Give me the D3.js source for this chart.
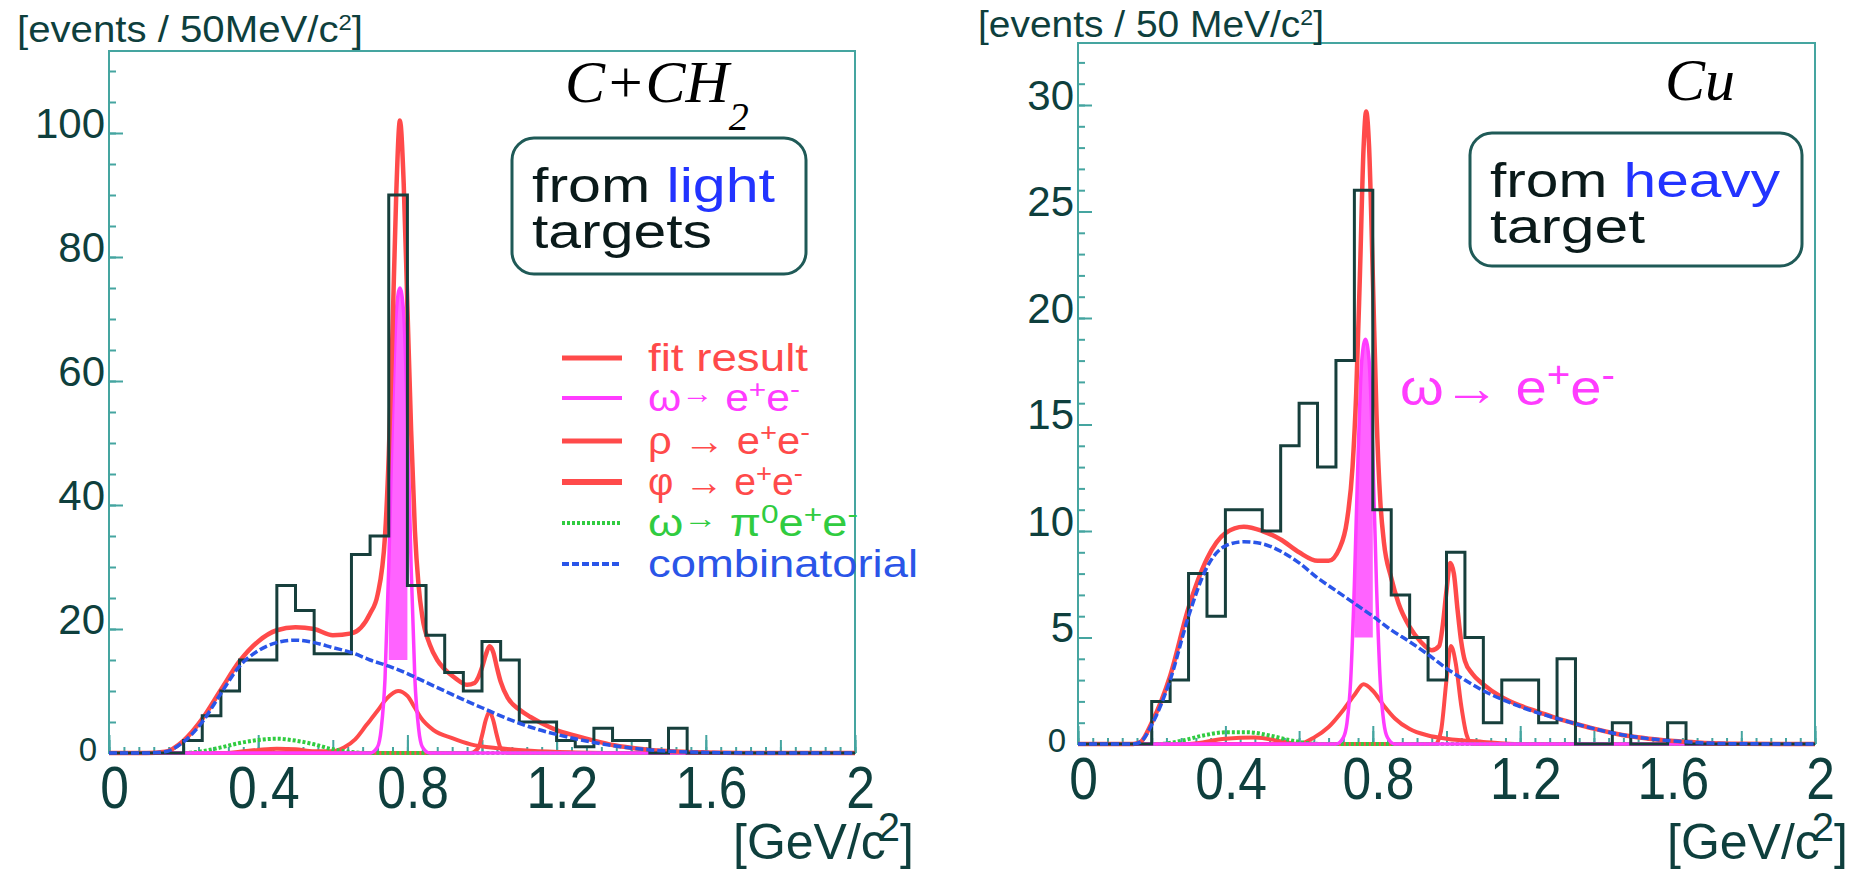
<!DOCTYPE html>
<html>
<head>
<meta charset="utf-8">
<style>
html, body { margin: 0; padding: 0; background: #fff; }
svg { display: block; }
</style>
</head>
<body>
<svg width="1858" height="871"></svg>
<script src="https://d3js.org/d3.v7.min.js"></script>
<script>
// ---- data (events per 50 MeV bin, 0..2 GeV) ----
var binWidth = 0.05;
var xTicks = [0, 0.4, 0.8, 1.2, 1.6, 2];
var xTickLabels = ["0", "0.4", "0.8", "1.2", "1.6", "2"];

// light targets (C+CH2)
var lightHist = [0,0,0,0,2,6,10,15,15,27,23,16,16,32,35,90,27,19,13,10,18,15,5,5,2,1,4,2,2,0,4,0,0,0,0,0,0,0,0,0];
var lightYTicks = [0, 20, 40, 60, 80, 100];
var lightComb = [[0,0],[0.1,0],[0.15,0.2],[0.2,1.8],[0.25,5],[0.3,9.6],[0.35,14],[0.4,16.5],[0.45,17.8],[0.5,18.2],[0.55,17.8],[0.6,17],[0.65,16.2],[0.7,15],[0.75,14],[0.8,12.8],[0.85,11.4],[0.9,10],[0.95,8.6],[1,7.3],[1.05,6],[1.1,4.8],[1.15,3.8],[1.2,3],[1.25,2.3],[1.3,1.7],[1.35,1.2],[1.4,0.8],[1.45,0.5],[1.5,0.3],[1.6,0.1],[1.7,0.02],[2,0]];
var lightFit = [[0,0],[0.1,0],[0.15,0.2],[0.2,2],[0.25,5.5],[0.3,10.2],[0.35,14.8],[0.4,18],[0.45,19.8],[0.5,20.3],[0.55,20],[0.6,19],[0.65,19.3],[0.7,22.5],[0.72,25.5],[0.74,35],[0.75,48],[0.76,68],[0.77,90],[0.78,102],[0.79,92],[0.8,72],[0.81,52],[0.82,36],[0.83,27],[0.84,22],[0.86,17.5],[0.88,15],[0.9,13.5],[0.93,12],[0.96,11],[0.98,11.3],[0.99,12.2],[1,13.8],[1.01,15.8],[1.02,17.2],[1.03,16.3],[1.04,13.8],[1.05,11.5],[1.07,8.8],[1.1,7],[1.13,5.8],[1.16,4.8],[1.2,3.7],[1.25,2.8],[1.3,2],[1.35,1.3],[1.4,0.85],[1.45,0.5],[1.5,0.3],[1.6,0.1],[1.7,0.02],[2,0]];
var lightOmega = [[0,0],[0.7,0],[0.72,1],[0.73,4],[0.74,12],[0.75,30],[0.76,54],[0.77,71],[0.78,75],[0.79,71],[0.8,54],[0.81,30],[0.82,12],[0.83,4],[0.84,1],[0.86,0],[2,0]];
var lightRho = [[0,0],[0.3,0],[0.35,0.2],[0.4,0.5],[0.45,0.7],[0.5,0.6],[0.55,0.3],[0.6,0.3],[0.63,0.9],[0.66,2.2],[0.69,4.5],[0.72,6.8],[0.745,8.8],[0.775,10],[0.8,9.2],[0.82,7.3],[0.835,5.8],[0.87,3.7],[0.92,2.4],[0.97,1.4],[1.05,0.75],[1.13,0.35],[1.25,0.1],[1.4,0],[2,0]];
var lightPhi = [[0,0],[0.97,0],[0.99,0.8],[1,2.8],[1.01,5.3],[1.02,6.7],[1.03,5.3],[1.04,2.8],[1.05,0.8],[1.07,0],[2,0]];
var lightDalitz = [[0,0],[0.2,0],[0.25,0.3],[0.3,0.9],[0.35,1.6],[0.4,2.1],[0.45,2.3],[0.5,2],[0.55,1.4],[0.6,0.6],[0.65,0.15],[0.7,0],[2,0]];

// heavy target (Cu)
var heavyHist = [0,0,0,0,2,3,8,6,11,11,10,14,16,13,18,26,11,7,5,3,9,5,1,3,3,1,4,0,0,1,0,0,1,0,0,0,0,0,0,0];
var heavyYTicks = [0, 5, 10, 15, 20, 25, 30];
var heavyComb = [[0,0],[0.15,0],[0.17,0.1],[0.2,0.9],[0.25,3],[0.3,6],[0.35,8.3],[0.4,9.3],[0.45,9.5],[0.5,9.4],[0.55,9.05],[0.6,8.5],[0.65,7.8],[0.7,7.2],[0.75,6.6],[0.8,6],[0.85,5.35],[0.9,4.8],[0.95,4.2],[1,3.55],[1.05,3],[1.1,2.5],[1.15,2.1],[1.2,1.75],[1.25,1.45],[1.3,1.2],[1.35,0.95],[1.4,0.72],[1.45,0.52],[1.5,0.36],[1.55,0.25],[1.6,0.16],[1.65,0.1],[1.7,0.05],[1.8,0.01],[2,0]];
var heavyFit = [[0,0],[0.15,0],[0.17,0.1],[0.2,1],[0.25,3.2],[0.3,6.4],[0.35,8.7],[0.4,9.9],[0.45,10.2],[0.5,10],[0.55,9.6],[0.6,9],[0.65,8.6],[0.68,8.6],[0.71,9.2],[0.73,10.5],[0.745,13],[0.755,16.5],[0.765,22],[0.775,28],[0.782,29.7],[0.79,28],[0.8,22],[0.81,15.5],[0.82,11.5],[0.83,9.5],[0.85,7.8],[0.87,6.6],[0.9,5.5],[0.93,4.8],[0.96,4.4],[0.98,4.6],[0.99,5.6],[1,7.2],[1.01,8.5],[1.02,8],[1.03,6.3],[1.04,4.8],[1.05,3.9],[1.07,3.3],[1.1,2.8],[1.15,2.2],[1.2,1.8],[1.25,1.5],[1.3,1.2],[1.35,0.95],[1.4,0.72],[1.45,0.52],[1.5,0.36],[1.55,0.25],[1.6,0.16],[1.65,0.1],[1.7,0.05],[1.8,0.01],[2,0]];
var heavyOmega = [[0,0],[0.7,0],[0.72,0.3],[0.73,1],[0.74,3],[0.75,7.5],[0.76,13.5],[0.77,18],[0.78,19],[0.79,18],[0.8,13.5],[0.81,7.5],[0.82,3],[0.83,1],[0.84,0.3],[0.86,0],[2,0]];
var heavyRho = [[0,0],[0.3,0],[0.4,0.25],[0.48,0.3],[0.56,0.1],[0.6,0],[0.64,0.3],[0.68,0.8],[0.72,1.6],[0.75,2.3],[0.775,2.8],[0.8,2.5],[0.83,1.8],[0.86,1.2],[0.9,0.7],[0.95,0.4],[1,0.25],[1.1,0.1],[1.2,0],[2,0]];
var heavyPhi = [[0,0],[0.97,0],[0.985,0.6],[1,3],[1.012,4.6],[1.025,3.8],[1.04,1.8],[1.055,0.4],[1.07,0],[2,0]];
var heavyDalitz = [[0,0],[0.22,0],[0.28,0.15],[0.34,0.4],[0.4,0.55],[0.46,0.55],[0.52,0.4],[0.57,0.2],[0.62,0.05],[0.66,0],[2,0]];

var legendRows = ["fit result", "omega", "rho", "phi", "dalitz", "combinatorial"];

// ---- styles ----
var RED = "#ff4a4a", MAG = "#ff3cff", BLUE = "#2a55e8", GREEN = "#30cc40";
var FRAME = "#45a5a0", INK = "#0e3f3d", HIST = "#173f3c";
var SANS = "'Liberation Sans', Arial, sans-serif";
var SERIF = "'Liberation Serif', 'Times New Roman', serif";

var svg = d3.select("svg");

function drawPanel(p) {
  var x = d3.scaleLinear().domain([0, 2]).range([p.left, p.right]);
  var y = d3.scaleLinear().domain([0, p.ymax]).range([p.bottom, p.top]);
  var g = svg.append("g");

  // frame
  g.append("rect")
    .attr("x", p.left).attr("y", p.top)
    .attr("width", p.right - p.left).attr("height", p.bottom - p.top)
    .attr("fill", "none").attr("stroke", FRAME).attr("stroke-width", 2);

  // y minor ticks
  g.append("g").attr("transform", "translate(" + p.left + ",0)")
    .call(d3.axisLeft(y).tickValues(d3.range(0, p.ymax, p.yMinor)).tickSize(-7).tickFormat(""))
    .call(function (a) { a.select(".domain").remove(); a.selectAll("line").attr("stroke", FRAME).attr("stroke-width", 2); });
  // y major ticks + labels
  g.append("g").attr("transform", "translate(" + p.left + ",0)")
    .call(d3.axisLeft(y).tickValues(p.yTicks).tickSize(-14).tickPadding(4).tickFormat(d3.format("d")))
    .call(function (a) {
      a.select(".domain").remove();
      a.selectAll("line").attr("stroke", FRAME).attr("stroke-width", 2);
      a.selectAll("text").attr("font-family", SANS).attr("fill", INK)
        .attr("dy", "0.22em")
        .attr("font-size", function (d) { return d === 0 ? 33 : 42; })
        .attr("dx", function (d) { return d === 0 ? -8 : 0; })
        .attr("y", function (d) { return d === 0 ? 0 : -5; });
    });

  // x ticks: fine, medium, labelled
  g.append("g").attr("transform", "translate(0," + p.bottom + ")")
    .call(d3.axisBottom(x).tickValues(d3.range(0, 2.001, 0.04)).tickSize(-6).tickFormat(""))
    .call(function (a) { a.select(".domain").remove(); a.selectAll("line").attr("stroke", FRAME).attr("stroke-width", 2); });
  g.append("g").attr("transform", "translate(0," + p.bottom + ")")
    .call(d3.axisBottom(x).tickValues(d3.range(0, 2.001, 0.2)).tickSize(-13).tickFormat(""))
    .call(function (a) { a.select(".domain").remove(); a.selectAll("line").attr("stroke", FRAME).attr("stroke-width", 2); });
  g.append("g").attr("transform", "translate(0," + p.bottom + ")")
    .call(d3.axisBottom(x).tickValues(xTicks).tickSize(-18).tickPadding(0)
      .tickFormat(function (d, i) { return xTickLabels[i]; }))
    .call(function (a) {
      a.select(".domain").remove();
      a.selectAll("line").attr("stroke", FRAME).attr("stroke-width", 2);
      a.selectAll("text").attr("font-family", SANS).attr("font-size", 60).attr("fill", INK)
        .attr("dy", null).attr("y", 55).attr("x", 6)
        .attr("transform", "scale(0.86,1)");
    });

  var line = d3.line().x(function (d) { return x(d[0]); }).y(function (d) { return y(d[1]); });
  var smooth = d3.line().curve(d3.curveMonotoneX)
    .x(function (d) { return x(d[0]); }).y(function (d) { return y(d[1]); });

  function curve(data, color, w, dash) {
    g.append("path").datum(data).attr("d", smooth)
      .attr("fill", "none").attr("stroke", color).attr("stroke-width", w)
      .attr("stroke-dasharray", dash || null).attr("stroke-linejoin", "round");
  }

  curve(p.rho, RED, 4);
  curve(p.phi, RED, 4);
  curve(p.dalitz, GREEN, 4, "3,2");

  // omega peak: filled where it sits inside the peak bin
  var clipId = "omclip" + p.id;
  g.append("clipPath").attr("id", clipId).append("rect")
    .attr("x", x(0.75)).attr("width", x(0.8) - x(0.75))
    .attr("y", y(p.ymax)).attr("height", y(p.omegaFillFrom) - y(p.ymax));
  g.append("path").datum(p.omega)
    .attr("d", d3.area().curve(d3.curveMonotoneX)
      .x(function (d) { return x(d[0]); }).y0(y(0)).y1(function (d) { return y(d[1]); }))
    .attr("fill", MAG).attr("fill-opacity", 0.8).attr("clip-path", "url(#" + clipId + ")");
  curve(p.omega, MAG, 3.5);
  curve(p.fit, RED, 4.5);

  // histogram
  var pts = p.hist.map(function (v, i) { return [i * binWidth, v]; });
  pts.unshift([0, 0]);
  pts.push([2, p.hist[p.hist.length - 1]]);
  g.append("path").datum(pts)
    .attr("d", line.curve(d3.curveStepAfter))
    .attr("fill", "none").attr("stroke", HIST).attr("stroke-width", 3);

  curve(p.comb, BLUE, 3.5, "8,3");

  // y title
  var yt = g.append("text").attr("x", p.ytitleX).attr("y", p.ytitleY)
    .attr("font-family", SANS).attr("font-size", 37).attr("fill", INK)
    .attr("textLength", 346).attr("lengthAdjust", "spacingAndGlyphs");
  yt.append("tspan").text(p.ytitle);
  yt.append("tspan").attr("dy", -12).attr("font-size", 22).text("2");
  yt.append("tspan").attr("dy", 12).text("]");

  // x title
  var xt = g.append("text").attr("x", p.xtitleRight).attr("y", 859)
    .attr("text-anchor", "end")
    .attr("font-family", SANS).attr("font-size", 50).attr("fill", INK);
  xt.append("tspan").text("[GeV/c");
  xt.append("tspan").attr("dy", -18).attr("dx", -8).attr("font-size", 40).text("2");
  xt.append("tspan").attr("dy", 18).text("]");

  return { x: x, y: y, g: g };
}

drawPanel({
  id: "L", left: 109, right: 855, top: 51, bottom: 753, ymax: (753 - 51) / 6.2,
  yTicks: lightYTicks, yMinor: 5, omegaFillFrom: 15,
  hist: lightHist, comb: lightComb, fit: lightFit, omega: lightOmega,
  rho: lightRho, phi: lightPhi, dalitz: lightDalitz,
  ytitle: "[events / 50MeV/c", ytitleX: 17, ytitleY: 42, xtitleRight: 914
});

drawPanel({
  id: "R", left: 1078, right: 1815, top: 43, bottom: 744, ymax: (744 - 43) / 21.3,
  yTicks: heavyYTicks, yMinor: 1, omegaFillFrom: 5,
  hist: heavyHist, comb: heavyComb, fit: heavyFit, omega: heavyOmega,
  rho: heavyRho, phi: heavyPhi, dalitz: heavyDalitz,
  ytitle: "[events / 50 MeV/c", ytitleX: 978, ytitleY: 37, xtitleRight: 1848
});

// ---- titles ----
var t1 = svg.append("text").attr("x", 565).attr("y", 102)
  .attr("font-family", SERIF).attr("font-style", "italic").attr("font-size", 60).attr("fill", "#000");
t1.append("tspan").text("C+CH");
t1.append("tspan").attr("dy", 28).attr("font-size", 40).text("2");

svg.append("text").attr("x", 1665).attr("y", 100)
  .attr("font-family", SERIF).attr("font-style", "italic").attr("font-size", 60).attr("fill", "#000")
  .text("Cu");

// ---- boxes ----
function box(x0, y0, w, h, word, len1, line2, len2) {
  svg.append("rect").attr("x", x0).attr("y", y0).attr("width", w).attr("height", h)
    .attr("rx", 22).attr("fill", "none").attr("stroke", "#1f5a57").attr("stroke-width", 3);
  var t = svg.append("text").attr("x", x0 + 20).attr("y", y0 + 64)
    .attr("font-family", SANS).attr("font-size", 48).attr("fill", "#0a1a1a")
    .attr("textLength", len1).attr("lengthAdjust", "spacingAndGlyphs");
  t.append("tspan").text("from ");
  t.append("tspan").attr("fill", "#2233ff").text(word);
  svg.append("text").attr("x", x0 + 20).attr("y", y0 + 110)
    .attr("font-family", SANS).attr("font-size", 48).attr("fill", "#0a1a1a")
    .attr("textLength", len2).attr("lengthAdjust", "spacingAndGlyphs").text(line2);
}
box(512, 138, 294, 136, "light", 243, "targets", 180);
box(1470, 133, 332, 133, "heavy", 290, "target", 155);

// ---- legend (left panel) ----
var legY = [360, 400, 443, 484, 525, 566];
var legLen = [160, 152, 162, 155, 210, 270];
var legFS = 38;
var lg = svg.append("g");
var legStyle = [
  { c: RED, w: 5, dash: null },
  { c: MAG, w: 4, dash: null },
  { c: RED, w: 5, dash: null },
  { c: RED, w: 6, dash: null },
  { c: GREEN, w: 4, dash: "3,2" },
  { c: BLUE, w: 4, dash: "7,3" }
];
legendRows.forEach(function (r, i) {
  var s = legStyle[i];
  lg.append("line").attr("x1", 562).attr("x2", 622).attr("y1", legY[i] - 2).attr("y2", legY[i] - 2)
    .attr("stroke", s.c).attr("stroke-width", s.w).attr("stroke-dasharray", s.dash);
  var t = lg.append("text").attr("x", 648).attr("y", legY[i] + 11)
    .attr("font-family", SANS).attr("font-size", legFS).attr("fill", s.c)
    .attr("textLength", legLen[i]).attr("lengthAdjust", "spacingAndGlyphs");
  if (r === "fit result") t.text("fit result");
  else if (r === "combinatorial") t.text("combinatorial");
  else {
    var head = r === "omega" || r === "dalitz" ? "\u03c9" : (r === "rho" ? "\u03c1" : "\u03c6");
    t.append("tspan").text(head);
    if (r === "omega" || r === "dalitz") {
      t.append("tspan").attr("dy", -8).attr("font-size", legFS * 0.75).text("\u2192");
      t.append("tspan").attr("dy", 8).text(" ");
    } else {
      t.append("tspan").text(" \u2192 ");
    }
    if (r === "dalitz") {
      t.append("tspan").text("\u03c0");
      t.append("tspan").attr("dy", -13).attr("font-size", legFS * 0.7).text("0");
      t.append("tspan").attr("dy", 13).text("e");
    } else {
      t.append("tspan").text("e");
    }
    t.append("tspan").attr("dy", -13).attr("font-size", legFS * 0.7).text("+");
    t.append("tspan").attr("dy", 13).text("e");
    t.append("tspan").attr("dy", -13).attr("font-size", legFS * 0.7).text("-");
  }
});

// ---- omega label (right panel) ----
var om = svg.append("text").attr("x", 1400).attr("y", 405)
  .attr("font-family", SANS).attr("font-size", 50).attr("fill", MAG)
  .attr("textLength", 215).attr("lengthAdjust", "spacingAndGlyphs");
om.append("tspan").text("\u03c9\u2192 e");
om.append("tspan").attr("dy", -18).attr("font-size", 36).text("+");
om.append("tspan").attr("dy", 18).text("e");
om.append("tspan").attr("dy", -18).attr("font-size", 36).text("-");
</script>
</body>
</html>
